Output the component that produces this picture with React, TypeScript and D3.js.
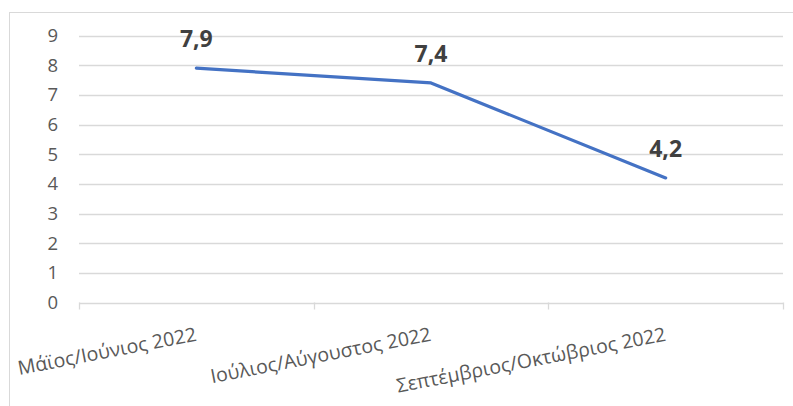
import React from "react";
import * as d3 from "d3";

const categories: string[] = [
  "Μάϊος/Ιούνιος 2022",
  "Ιούλιος/Αύγουστος 2022",
  "Σεπτέμβριος/Οκτώβριος 2022",
];
const values: number[] = [7.9, 7.4, 4.2];
const yTicks: number[] = [0, 1, 2, 3, 4, 5, 6, 7, 8, 9];

const W = 793;
const H = 406;
const left = 79;
const right = 783;
const top = 35.5;
const bottom = 302.5;

export default function App() {
  const x = d3.scaleBand<string>().domain(categories).range([left, right]).padding(0);
  const y = d3.scaleLinear().domain([0, 9]).range([bottom, top]);
  const cx = (c: string) => (x(c) as number) + x.bandwidth() / 2;
  const pts: [number, number][] = categories.map((c, i) => [cx(c), y(values[i])]);
  const line = d3.line<[number, number]>().x((d) => d[0]).y((d) => d[1]);
  const boundaries = [...categories.map((c) => x(c) as number), right];
  const font = "'Open Sans', 'Noto Sans', sans-serif";
  const fmt = (v: number) => v.toFixed(1).replace(".", ",");

  return (
    <svg
      width={W}
      height={H}
      style={{ position: "absolute", left: 0, top: 0, background: "#fff" }}
    >
      <rect x={9.5} y={12.5} width={900} height={500} fill="#fff" stroke="#D9D9D9" strokeWidth={1} />
      {yTicks.map((t) => (
        <line
          key={"g" + t}
          x1={left}
          x2={right}
          y1={Math.round(y(t)) + 0.5}
          y2={Math.round(y(t)) + 0.5}
          stroke="#D9D9D9"
          strokeWidth={1.3}
        />
      ))}
      {boundaries.map((b, i) => (
        <line
          key={"t" + i}
          x1={Math.round(b) + 0.5}
          x2={Math.round(b) + 0.5}
          y1={bottom}
          y2={bottom + 7}
          stroke="#D9D9D9"
          strokeWidth={1.3}
        />
      ))}
      {yTicks.map((t) => (
        <text
          key={"l" + t}
          x={58}
          y={y(t)}
          dy="0.36em"
          textAnchor="end"
          fontFamily={font}
          fontSize={18.5}
          fill="#595959"
        >
          {t}
        </text>
      ))}
      {categories.map((c) => (
        <text
          key={c}
          transform={`translate(${cx(c) + 1},${bottom + 38}) rotate(-11)`}
          textAnchor="end"
          fontFamily={font}
          fontSize={19.5}
          fill="#595959"
        >
          {c}
        </text>
      ))}
      <path
        d={line(pts) || ""}
        fill="none"
        stroke="#4472C4"
        strokeWidth={3.2}
        strokeLinejoin="round"
        strokeLinecap="round"
      />
      {pts.map((p, i) => (
        <text
          key={"v" + i}
          x={p[0]}
          y={p[1] - 21}
          textAnchor="middle"
          fontFamily={font}
          fontWeight="bold"
          fontSize={23}
          fill="#404040"
        >
          {fmt(values[i])}
        </text>
      ))}
    </svg>
  );
}
